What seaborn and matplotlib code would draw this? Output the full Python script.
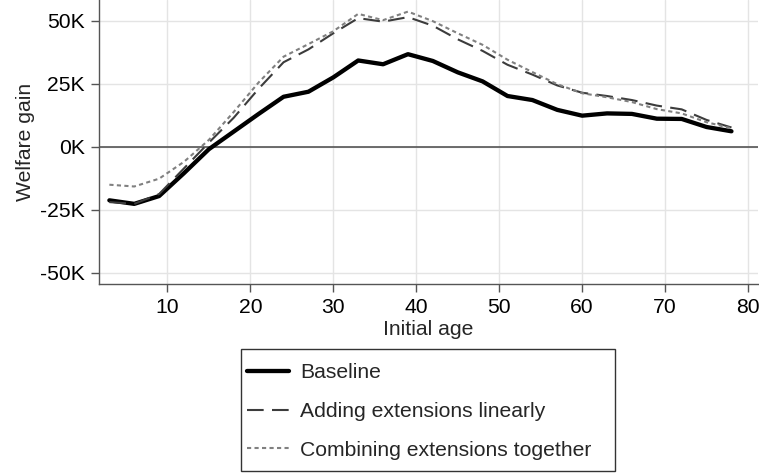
import matplotlib
matplotlib.use("Agg")
import matplotlib.pyplot as plt
from matplotlib.patches import Rectangle
import seaborn as sns
import pandas as pd

ages = [3, 6, 9, 12, 15, 18, 21, 24, 27, 30, 33, 36, 39, 42, 45, 48, 51, 54, 57, 60, 63, 66, 69, 72, 75, 78]
baseline = [-21.3, -22.7, -19.6, -10.5, -1.0, 6.0, 13.0, 19.8, 21.8, 27.5, 34.2, 32.7, 36.7, 34.0, 29.5, 25.9,
            20.1, 18.5, 14.6, 12.3, 13.2, 13.0, 11.1, 11.0, 7.8, 6.1]
adding = [-22.0, -22.7, -18.8, -8.6, 1.6, 11.5, 23.0, 33.5, 38.6, 45.0, 51.0, 49.6, 51.4, 48.0, 42.6, 38.0,
          32.5, 28.6, 24.3, 21.4, 20.1, 18.5, 16.3, 14.8, 10.6, 7.6]
combining = [-15.1, -15.8, -12.7, -6.0, 2.7, 13.8, 25.5, 35.7, 40.7, 45.8, 52.7, 50.2, 53.6, 49.8, 45.0, 40.4,
             34.5, 29.6, 24.8, 21.2, 19.6, 17.7, 14.9, 13.2, 9.7, 7.3]
series_names = ["Baseline", "Adding extensions linearly", "Combining extensions together"]
y_ticks = [-50, -25, 0, 25, 50]
x_ticks = [10, 20, 30, 40, 50, 60, 70, 80]

sns.set_style("white")
plt.rcParams["font.family"] = ["Liberation Sans", "DejaVu Sans"]
FS = 15.2
W, H = 759, 475

df = pd.DataFrame({"age": ages * 3,
                   "gain": baseline + adding + combining,
                   "series": [series_names[0]] * len(ages) + [series_names[1]] * len(ages) + [series_names[2]] * len(ages)})

fig = plt.figure(figsize=(W / 100, H / 100), dpi=100)
ax = fig.add_axes([99 / W, 1 - 284 / H, (758 - 99) / W, 284 / H])

styles = {
    series_names[0]: dict(color="black", lw=3.1, ls="-"),
    series_names[1]: dict(color="#3c3c3c", lw=1.5, ls=(0, (8, 4))),
    series_names[2]: dict(color="#808080", lw=1.5, ls=(0, (2, 1.6))),
}
for name in series_names:
    st = styles[name]
    sns.lineplot(data=df[df["series"] == name], x="age", y="gain", ax=ax, color=st["color"],
                 linewidth=st["lw"], linestyle=st["ls"], label=name, legend=False, zorder=3)

ax.axhline(0, color="#555555", lw=1.2, zorder=2)
ax.set_xlim(1.75, 81.2)
ax.set_ylim(-54.5, 58.2)
ax.set_xticks(x_ticks)
ax.set_yticks(y_ticks)
ax.set_yticklabels([f"{v}K" for v in y_ticks])
ax.grid(True, color="#e4e4e4", lw=1.0, zorder=0)
ax.set_axisbelow(True)
for s in ["top", "right"]:
    ax.spines[s].set_visible(False)
for s in ["left", "bottom"]:
    ax.spines[s].set_color("#555555")
    ax.spines[s].set_linewidth(1.0)
ax.tick_params(axis="both", direction="out", length=6, width=1.0, color="#555555",
               labelsize=FS, labelcolor="black", pad=4, left=True, bottom=True)
ax.set_xlabel("Initial age", fontsize=FS, labelpad=2)
ax.set_ylabel("Welfare gain", fontsize=FS, labelpad=4)

handles, labels = ax.get_legend_handles_labels()
leg = fig.legend(handles, labels, loc="upper left", bbox_to_anchor=(247 / W, 1 - 363.5 / H),
                 fontsize=FS, frameon=False, handlelength=2.0, handletextpad=0.5,
                 labelspacing=0.93, borderpad=0, borderaxespad=0)
fig.patches.append(Rectangle((240.7 / W, 1 - 470.7 / H), (615.3 - 240.7) / W, (470.7 - 349) / H,
                             transform=fig.transFigure, fill=False, edgecolor="#333333", lw=1.0))

fig.savefig("out.png", dpi=100)
